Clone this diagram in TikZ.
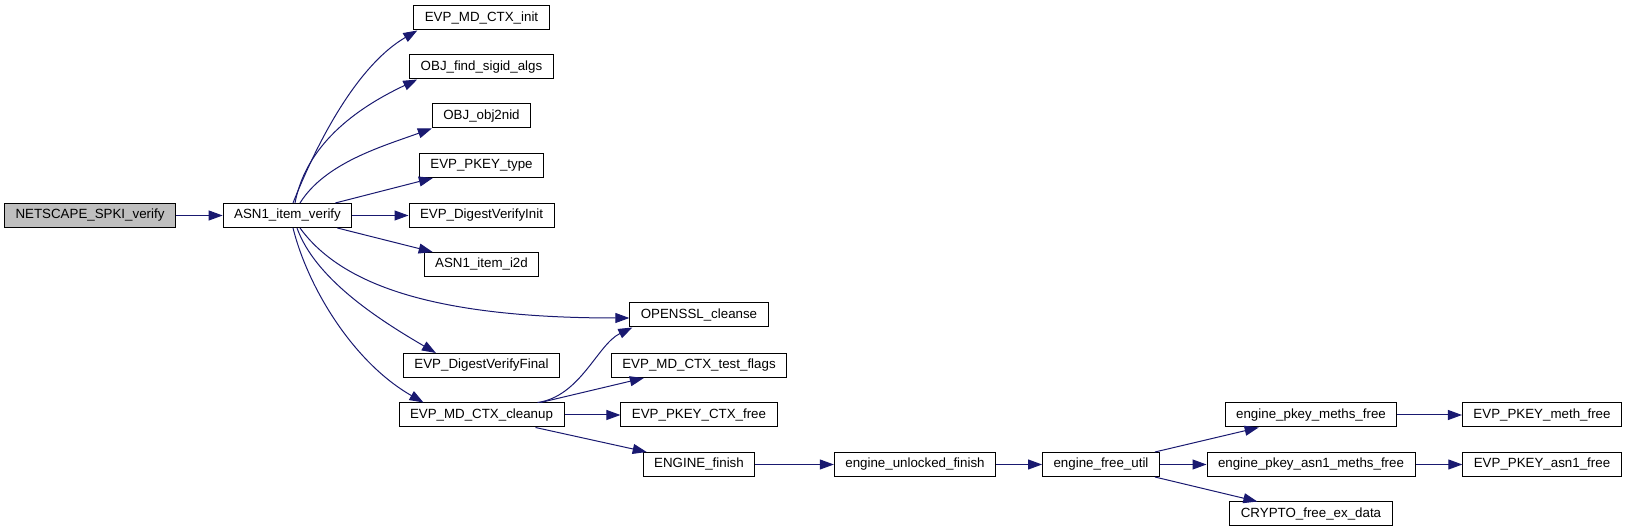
\documentclass[tikz,border=0pt]{standalone}
\usepackage{fontspec}
\setmainfont{Liberation Sans}
\usetikzlibrary{arrows.meta}
\definecolor{edgeblue}{HTML}{191970}
\begin{document}
\begin{tikzpicture}[x=1pt,y=1pt,line width=1pt,font=\fontsize{13.33}{16}\selectfont,
  fn/.style={draw=black,fill=white,rectangle,inner xsep=11pt,inner ysep=0pt,minimum height=24pt,text height=9.5pt,text depth=2.5pt},
  call/.style={draw=edgeblue,-{Triangle[length=14pt,width=10pt]}}]
\useasboundingbox (0,0) rectangle (1627,532);
\node[fn,fill=gray!50] (netscape) at (90,316.5) {NETSCAPE\_SPKI\_verify};
\node[fn] (asn1) at (287.5,316.5) {ASN1\_item\_verify};
\node[fn] (mdinit) at (481.5,514) {EVP\_MD\_CTX\_init};
\node[fn] (objfind) at (481.5,465) {OBJ\_find\_sigid\_algs};
\node[fn] (obj2nid) at (481.5,416) {OBJ\_obj2nid};
\node[fn] (pkeytype) at (481.5,366.5) {EVP\_PKEY\_type};
\node[fn] (dvinit) at (481.5,316.5) {EVP\_DigestVerifyInit};
\node[fn] (i2d) at (481.5,267.5) {ASN1\_item\_i2d};
\node[fn] (dvfinal) at (481.5,166.5) {EVP\_DigestVerifyFinal};
\node[fn] (cleanup) at (481.5,117) {EVP\_MD\_CTX\_cleanup};
\node[fn] (cleanse) at (699,217) {OPENSSL\_cleanse};
\node[fn] (testflags) at (699,166.5) {EVP\_MD\_CTX\_test\_flags};
\node[fn] (ctxfree) at (699,117) {EVP\_PKEY\_CTX\_free};
\node[fn] (engfinish) at (699,67.5) {ENGINE\_finish};
\node[fn] (unlocked) at (915,67.5) {engine\_unlocked\_finish};
\node[fn] (freeutil) at (1101,67.5) {engine\_free\_util};
\node[fn] (pkeymeths) at (1311,117) {engine\_pkey\_meths\_free};
\node[fn] (asn1meths) at (1311,67.5) {engine\_pkey\_asn1\_meths\_free};
\node[fn] (exdata) at (1311,18) {CRYPTO\_free\_ex\_data};
\node[fn] (methfree) at (1542,117) {EVP\_PKEY\_meth\_free};
\node[fn] (asn1free) at (1542,67.5) {EVP\_PKEY\_asn1\_free};
\draw[call] (netscape.east) -- (asn1.west);
\draw[call] ([xshift=5.5pt]asn1.north) .. controls +(30,75) and +(-55,-32) .. ([xshift=4pt]mdinit.south west);
\draw[call] ([xshift=7.5pt]asn1.north) .. controls +(12,63) and +(-53,-25) .. ([xshift=8pt]objfind.south west);
\draw[call] ([xshift=12.5pt]asn1.north) .. controls +(25,40) and +(-50,-18) .. (obj2nid.south west);
\draw[call] ([xshift=-17pt]asn1.north east) -- ([xshift=14pt]pkeytype.south west);
\draw[call] (asn1.east) -- (dvinit.west);
\draw[call] ([xshift=-15pt]asn1.south east) -- ([xshift=9pt]i2d.north west);
\draw[call] ([xshift=12.5pt]asn1.south) .. controls +(40,-55) and +(-200,0) .. ([yshift=-3pt]cleanse.west);
\draw[call] ([xshift=9.5pt]asn1.south) .. controls +(18,-50) and +(-60,35) .. ([xshift=33pt]dvfinal.north west);
\draw[call] ([xshift=5.5pt]asn1.south) .. controls +(15,-60) and +(-70,40) .. ([xshift=25pt]cleanup.north west);
\draw[call] ([xshift=-27pt]cleanup.north east) .. controls +(43,6) and +(-35,-17) .. ([xshift=3pt]cleanse.south west);
\draw[call] ([xshift=-24pt]cleanup.north east) -- ([xshift=33pt]testflags.south west);
\draw[call] (cleanup.east) -- (ctxfree.west);
\draw[call] ([xshift=-29pt]cleanup.south east) -- ([xshift=4pt]engfinish.north west);
\draw[call] (engfinish.east) -- (unlocked.west);
\draw[call] (unlocked.east) -- (freeutil.west);
\draw[call] ([xshift=-5pt]freeutil.north east) -- ([xshift=34pt]pkeymeths.south west);
\draw[call] (freeutil.east) -- (asn1meths.west);
\draw[call] ([xshift=-5pt]freeutil.south east) -- ([xshift=28pt]exdata.north west);
\draw[call] (pkeymeths.east) -- (methfree.west);
\draw[call] (asn1meths.east) -- (asn1free.west);
\end{tikzpicture}
\end{document}
